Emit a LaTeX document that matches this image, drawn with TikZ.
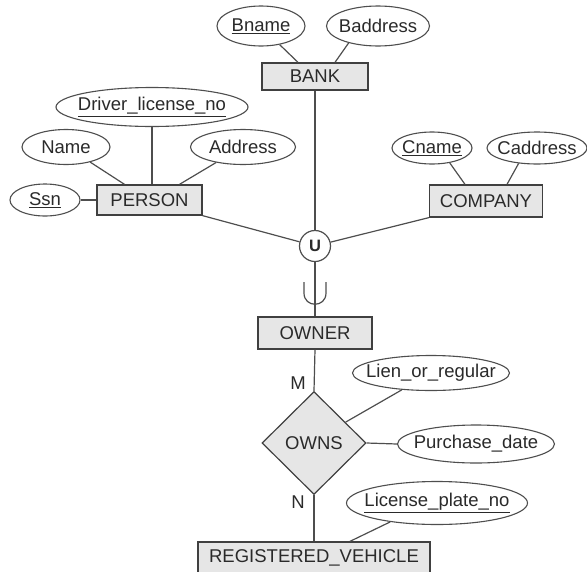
\documentclass[tikz,border=0pt]{standalone}
\usepackage{fontspec}
\setmainfont{Liberation Sans}
\usetikzlibrary{shapes.geometric,calc}
\definecolor{edgecol}{HTML}{404040}
\definecolor{linecol}{HTML}{4E4E4E}
\definecolor{boxfill}{HTML}{E6E6E6}
\definecolor{ink}{HTML}{2A2A2A}
% attribute text is given zero width so the ellipse size comes only from its minimum size
\newcommand{\zw}[1]{\makebox[0pt]{#1}}

\begin{document}
\begin{tikzpicture}[x=1pt,y=-1pt,
  every node/.style={font=\fontsize{18.5}{20}\selectfont, text=ink},
  entity/.style={draw=edgecol, line width=1.3pt, fill=boxfill, rectangle, inner sep=0pt},
  attr/.style={draw=linecol, line width=1.1pt, ellipse, fill=white, inner sep=0pt},
  rel/.style={draw=edgecol, line width=1.2pt, diamond, fill=boxfill, inner sep=0pt},
  unioncirc/.style={draw=linecol, line width=1.2pt, circle, fill=white, inner sep=0pt,
    minimum size=31pt, font=\fontsize{16.5}{18}\selectfont\bfseries},
  link/.style={draw=linecol, line width=1.2pt},
  card/.style={inner sep=0pt}]
\useasboundingbox (0,0) rectangle (587,571);

% entities
\node[entity, minimum width=106pt, minimum height=27pt] (bank) at (315,76.5) {BANK};
\node[entity, minimum width=105pt, minimum height=30pt] (person) at (149.5,200) {PERSON};
\node[entity, minimum width=113pt, minimum height=32pt] (company) at (486,201) {COMPANY};
\node[entity, minimum width=114pt, minimum height=32pt] (owner) at (315,333) {OWNER};
\node[entity, minimum width=232pt, minimum height=32pt] (rv) at (314,558) {REGISTERED\_VEHICLE};

% union category
\node[unioncirc] (u) at (315,246) {U};

% relationship
\node[rel, minimum width=104pt, minimum height=103pt] (owns) at (314,443) {OWNS};

% attributes
\node[attr, minimum width=88pt, minimum height=40pt] (bname) at (261,26) {\zw{\underline{Bname}}};
\node[attr, minimum width=103pt, minimum height=40pt] (baddr) at (378,26) {\zw{Baddress}};
\node[attr, minimum width=192pt, minimum height=39pt] (driver) at (152,107) {\zw{\underline{Driver\_license\_no}}};
\node[attr, minimum width=88pt, minimum height=35pt] (name) at (66,147) {\zw{Name}};
\node[attr, minimum width=105pt, minimum height=35pt] (addr) at (243,147) {\zw{Address}};
\node[attr, minimum width=70pt, minimum height=32pt] (ssn) at (45,200) {\zw{\underline{Ssn}}};
\node[attr, minimum width=80pt, minimum height=32pt] (cname) at (432,148) {\zw{\underline{Cname}}};
\node[attr, minimum width=100pt, minimum height=32pt] (caddr) at (537,148) {\zw{Caddress}};
\node[attr, minimum width=157pt, minimum height=35pt] (lien) at (431,373) {\zw{Lien\_or\_regular}};
\node[attr, minimum width=157pt, minimum height=38pt] (purch) at (476,444) {\zw{Purchase\_date}};
\node[attr, minimum width=181pt, minimum height=43pt] (lic) at (437,503) {\zw{\underline{License\_plate\_no}}};

% cardinalities
\node[card] (m) at (298,383) {M};
\node[card] (n) at (298,502) {N};

% attribute links
\draw[link] ($(bank.north)+(-17,0)$) -- (bname.-45);
\draw[link] ($(bank.north)+(20,0)$) -- (baddr.-150);
\draw[link] (driver.south) -- (driver.south |- person.north);
\draw[link] ($(person.north)+(-25,0)$) -- (name.-32);
\draw[link] ($(person.north)+(30,0)$) -- (addr.-150);
\draw[link] (ssn.east) -- (person.west);
\draw[link] ($(company.north)+(-21,0)$) -- (cname.-40);
\draw[link] ($(company.north)+(21,0)$) -- (caddr.-140);
\draw[link] ($(owns.north)!0.6!(owns.east)$) -- (lien.-150);
\draw[link] (owns.east) -- (purch.west);
\draw[link] ($(rv.north)+(36,0)$) -- (lic.-158);

% union category links
\draw[link] (bank.south) -- (u.north);
\draw[link] (person.south east) -- (u);
\draw[link] (company.south west) -- (u);
\draw[link] (u.south) -- (owner.north);

% subset symbol on the category link
\draw[link] (304,282) -- (304,293) .. controls (304,308) and (326,308) .. (326,293) -- (326,282);

% relationship links
\draw[link] (owner.south) -- (owns.north);
\draw[link] (owns.south) -- (rv.north);
\end{tikzpicture}
\end{document}
